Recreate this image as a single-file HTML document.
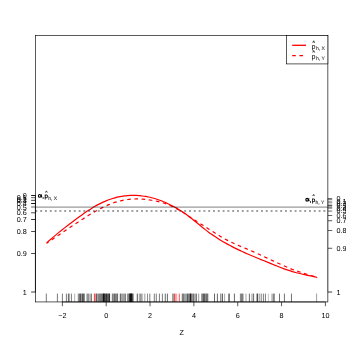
<!DOCTYPE html>
<html><head><meta charset="utf-8"><style>
html,body{margin:0;padding:0;background:#fff;}
svg{display:block;will-change:transform;}
text{font-family:"Liberation Sans",sans-serif;font-size:7.2px;fill:#000;text-rendering:geometricPrecision;}
.s{font-size:5px;fill:#333;stroke:#333;stroke-width:0.12px;}
.b{font-size:6.2px;stroke:#000;stroke-width:0.25px;}
</style></head><body>
<svg width="346" height="346" viewBox="0 0 346 346">
<path d="M46.60 243.07 C47.10 242.61 48.60 241.19 49.60 240.29 C50.60 239.38 51.60 238.51 52.60 237.64 C53.60 236.77 54.60 235.93 55.60 235.09 C56.60 234.25 57.60 233.43 58.60 232.62 C59.60 231.81 60.60 231.01 61.60 230.22 C62.60 229.43 63.60 228.64 64.60 227.86 C65.60 227.08 66.60 226.30 67.60 225.53 C68.60 224.76 69.60 224.00 70.60 223.24 C71.60 222.48 72.60 221.72 73.60 220.97 C74.60 220.22 75.60 219.48 76.60 218.74 C77.60 218.00 78.60 217.26 79.60 216.54 C80.60 215.81 81.60 215.09 82.60 214.39 C83.60 213.69 84.60 212.99 85.60 212.31 C86.60 211.63 87.60 210.95 88.60 210.30 C89.60 209.65 90.60 209.01 91.60 208.39 C92.60 207.77 93.60 207.16 94.60 206.58 C95.60 206.00 96.60 205.44 97.60 204.90 C98.60 204.36 99.60 203.84 100.60 203.34 C101.60 202.84 102.60 202.36 103.60 201.91 C104.60 201.46 105.60 201.03 106.60 200.62 C107.60 200.22 108.60 199.84 109.60 199.48 C110.60 199.12 111.60 198.79 112.60 198.48 C113.60 198.17 114.60 197.88 115.60 197.62 C116.60 197.36 117.60 197.12 118.60 196.90 C119.60 196.69 120.60 196.50 121.60 196.33 C122.60 196.16 123.60 196.01 124.60 195.89 C125.60 195.76 126.60 195.66 127.60 195.58 C128.60 195.50 129.60 195.45 130.60 195.41 C131.60 195.37 132.60 195.36 133.60 195.36 C134.60 195.37 135.60 195.39 136.60 195.44 C137.60 195.49 138.60 195.56 139.60 195.65 C140.60 195.74 141.60 195.85 142.60 195.98 C143.60 196.11 144.60 196.27 145.60 196.44 C146.60 196.61 147.60 196.80 148.60 197.01 C149.60 197.22 150.60 197.46 151.60 197.71 C152.60 197.96 153.60 198.24 154.60 198.53 C155.60 198.82 156.60 199.13 157.60 199.46 C158.60 199.79 159.60 200.15 160.60 200.52 C161.60 200.89 162.60 201.29 163.60 201.70 C164.60 202.11 165.60 202.55 166.60 203.00 C167.60 203.45 168.60 203.93 169.60 204.42 C170.60 204.91 171.60 205.43 172.60 205.96 C173.60 206.49 174.60 207.05 175.60 207.62 C176.60 208.19 177.60 208.79 178.60 209.41 C179.60 210.03 180.60 210.66 181.60 211.32 C182.60 211.98 183.60 212.66 184.60 213.36 C185.60 214.06 186.60 214.78 187.60 215.52 C188.60 216.26 189.60 217.03 190.60 217.80 C191.60 218.57 192.60 219.36 193.60 220.16 C194.60 220.96 195.60 221.78 196.60 222.59 C197.60 223.41 198.60 224.23 199.60 225.05 C200.60 225.87 201.60 226.69 202.60 227.49 C203.60 228.29 204.60 229.08 205.60 229.86 C206.60 230.64 207.60 231.41 208.60 232.15 C209.60 232.89 210.60 233.62 211.60 234.32 C212.60 235.02 213.60 235.71 214.60 236.37 C215.60 237.03 216.60 237.68 217.60 238.31 C218.60 238.94 219.60 239.55 220.60 240.15 C221.60 240.75 222.60 241.33 223.60 241.91 C224.60 242.49 225.60 243.06 226.60 243.62 C227.60 244.18 228.60 244.72 229.60 245.26 C230.60 245.80 231.60 246.33 232.60 246.85 C233.60 247.37 234.60 247.89 235.60 248.39 C236.60 248.89 237.60 249.38 238.60 249.87 C239.60 250.36 240.60 250.83 241.60 251.30 C242.60 251.77 243.60 252.22 244.60 252.67 C245.60 253.12 246.60 253.56 247.60 253.99 C248.60 254.42 249.60 254.85 250.60 255.27 C251.60 255.69 252.60 256.11 253.60 256.52 C254.60 256.93 255.60 257.34 256.60 257.75 C257.60 258.16 258.60 258.57 259.60 258.98 C260.60 259.39 261.60 259.79 262.60 260.20 C263.60 260.61 264.60 261.01 265.60 261.42 C266.60 261.83 267.60 262.23 268.60 262.64 C269.60 263.05 270.60 263.46 271.60 263.86 C272.60 264.26 273.60 264.67 274.60 265.07 C275.60 265.47 276.60 265.87 277.60 266.27 C278.60 266.67 279.60 267.06 280.60 267.45 C281.60 267.83 282.60 268.21 283.60 268.58 C284.60 268.95 285.60 269.32 286.60 269.67 C287.60 270.02 288.60 270.35 289.60 270.68 C290.60 271.01 291.60 271.33 292.60 271.63 C293.60 271.93 294.60 272.22 295.60 272.49 C296.60 272.76 297.60 273.03 298.60 273.28 C299.60 273.53 300.60 273.77 301.60 274.00 C302.60 274.23 303.60 274.45 304.60 274.67 C305.60 274.89 306.60 275.10 307.60 275.31 C308.60 275.52 309.60 275.73 310.60 275.94 C311.60 276.15 312.50 276.34 313.60 276.59 C314.70 276.84 316.60 277.31 317.20 277.46" fill="none" stroke="#f00" stroke-width="1.2"/>
<path d="M46.60 243.30 C47.10 242.96 48.60 241.96 49.60 241.28 C50.60 240.60 51.60 239.93 52.60 239.25 C53.60 238.57 54.60 237.89 55.60 237.21 C56.60 236.53 57.60 235.86 58.60 235.18 C59.60 234.50 60.60 233.82 61.60 233.14 C62.60 232.46 63.60 231.79 64.60 231.11 C65.60 230.43 66.60 229.76 67.60 229.08 C68.60 228.41 69.60 227.73 70.60 227.06 C71.60 226.39 72.60 225.72 73.60 225.05 C74.60 224.38 75.60 223.72 76.60 223.06 C77.60 222.40 78.60 221.74 79.60 221.08 C80.60 220.43 81.60 219.77 82.60 219.13 C83.60 218.49 84.60 217.85 85.60 217.22 C86.60 216.59 87.60 215.96 88.60 215.35 C89.60 214.74 90.60 214.13 91.60 213.54 C92.60 212.94 93.60 212.35 94.60 211.78 C95.60 211.21 96.60 210.66 97.60 210.11 C98.60 209.56 99.60 209.03 100.60 208.51 C101.60 207.99 102.60 207.49 103.60 207.01 C104.60 206.53 105.60 206.06 106.60 205.62 C107.60 205.18 108.60 204.75 109.60 204.34 C110.60 203.93 111.60 203.54 112.60 203.18 C113.60 202.82 114.60 202.48 115.60 202.17 C116.60 201.85 117.60 201.56 118.60 201.29 C119.60 201.02 120.60 200.78 121.60 200.56 C122.60 200.34 123.60 200.15 124.60 199.98 C125.60 199.81 126.60 199.66 127.60 199.53 C128.60 199.40 129.60 199.30 130.60 199.21 C131.60 199.12 132.60 199.06 133.60 199.02 C134.60 198.98 135.60 198.95 136.60 198.95 C137.60 198.94 138.60 198.96 139.60 198.99 C140.60 199.03 141.60 199.09 142.60 199.16 C143.60 199.23 144.60 199.32 145.60 199.43 C146.60 199.54 147.60 199.68 148.60 199.82 C149.60 199.96 150.60 200.11 151.60 200.27 C152.60 200.43 153.60 200.59 154.60 200.78 C155.60 200.97 156.60 201.18 157.60 201.41 C158.60 201.64 159.60 201.89 160.60 202.16 C161.60 202.43 162.60 202.71 163.60 203.03 C164.60 203.35 165.60 203.69 166.60 204.06 C167.60 204.43 168.60 204.84 169.60 205.27 C170.60 205.70 171.60 206.15 172.60 206.62 C173.60 207.09 174.60 207.59 175.60 208.12 C176.60 208.65 177.60 209.20 178.60 209.77 C179.60 210.34 180.60 210.95 181.60 211.56 C182.60 212.17 183.60 212.81 184.60 213.45 C185.60 214.09 186.60 214.75 187.60 215.41 C188.60 216.07 189.60 216.73 190.60 217.39 C191.60 218.05 192.60 218.70 193.60 219.35 C194.60 220.00 195.60 220.66 196.60 221.30 C197.60 221.94 198.60 222.57 199.60 223.20 C200.60 223.83 201.60 224.47 202.60 225.10 C203.60 225.73 204.60 226.36 205.60 226.99 C206.60 227.62 207.60 228.26 208.60 228.90 C209.60 229.54 210.60 230.17 211.60 230.81 C212.60 231.45 213.60 232.11 214.60 232.75 C215.60 233.39 216.60 234.02 217.60 234.64 C218.60 235.26 219.60 235.87 220.60 236.47 C221.60 237.07 222.60 237.66 223.60 238.23 C224.60 238.80 225.60 239.34 226.60 239.87 C227.60 240.40 228.60 240.91 229.60 241.40 C230.60 241.89 231.60 242.36 232.60 242.82 C233.60 243.28 234.60 243.74 235.60 244.18 C236.60 244.62 237.60 245.05 238.60 245.48 C239.60 245.91 240.60 246.34 241.60 246.76 C242.60 247.18 243.60 247.60 244.60 248.02 C245.60 248.44 246.60 248.85 247.60 249.27 C248.60 249.69 249.60 250.13 250.60 250.56 C251.60 250.99 252.60 251.43 253.60 251.87 C254.60 252.31 255.60 252.76 256.60 253.21 C257.60 253.66 258.60 254.11 259.60 254.57 C260.60 255.03 261.60 255.50 262.60 255.97 C263.60 256.44 264.60 256.91 265.60 257.38 C266.60 257.85 267.60 258.32 268.60 258.79 C269.60 259.26 270.60 259.73 271.60 260.19 C272.60 260.65 273.60 261.12 274.60 261.58 C275.60 262.04 276.60 262.51 277.60 262.97 C278.60 263.43 279.60 263.89 280.60 264.34 C281.60 264.79 282.60 265.25 283.60 265.69 C284.60 266.13 285.60 266.57 286.60 267.00 C287.60 267.43 288.60 267.86 289.60 268.27 C290.60 268.68 291.60 269.09 292.60 269.47 C293.60 269.85 294.60 270.21 295.60 270.57 C296.60 270.93 297.60 271.28 298.60 271.62 C299.60 271.96 300.60 272.30 301.60 272.63 C302.60 272.96 303.60 273.29 304.60 273.60 C305.60 273.91 306.60 274.21 307.60 274.51 C308.60 274.81 309.60 275.09 310.60 275.38 C311.60 275.67 312.50 275.95 313.60 276.26 C314.70 276.57 316.60 277.08 317.20 277.25" fill="none" stroke="#f00" stroke-width="1.2" stroke-dasharray="3.6 3.6" stroke-dashoffset="1.1"/>
<line x1="35.42" x2="327.86" y1="207.1" y2="207.1" stroke="#000" stroke-opacity="0.4" stroke-width="1.3"/>
<line x1="35.42" x2="327.86" y1="211.1" y2="211.1" stroke="#000" stroke-opacity="0.5" stroke-width="1.5" stroke-dasharray="1.9 2.9" stroke-dashoffset="0"/>
<g stroke-width="0.75"><line x1="46.30" x2="46.30" y1="293.6" y2="301.94" stroke="#000" stroke-opacity="0.70"/><line x1="57.40" x2="57.40" y1="293.6" y2="301.94" stroke="#000" stroke-opacity="0.70"/><line x1="62.40" x2="62.40" y1="293.6" y2="301.94" stroke="#000" stroke-opacity="0.70"/><line x1="66.40" x2="66.40" y1="293.6" y2="301.94" stroke="#000" stroke-opacity="0.70"/><line x1="68.40" x2="68.40" y1="293.6" y2="301.94" stroke="#000" stroke-opacity="0.70"/><line x1="69.10" x2="69.10" y1="293.6" y2="301.94" stroke="#000" stroke-opacity="0.70"/><line x1="71.40" x2="71.40" y1="293.6" y2="301.94" stroke="#000" stroke-opacity="0.70"/><line x1="74.70" x2="74.70" y1="293.6" y2="301.94" stroke="#000" stroke-opacity="0.40"/><line x1="78.20" x2="78.20" y1="293.6" y2="301.94" stroke="#000" stroke-opacity="0.45"/><line x1="78.80" x2="78.80" y1="293.6" y2="301.94" stroke="#000" stroke-opacity="0.45"/><line x1="79.40" x2="79.40" y1="293.6" y2="301.94" stroke="#000" stroke-opacity="0.45"/><line x1="80.00" x2="80.00" y1="293.6" y2="301.94" stroke="#000" stroke-opacity="0.45"/><line x1="80.20" x2="80.20" y1="293.6" y2="301.94" stroke="#000" stroke-opacity="0.70"/><line x1="80.80" x2="80.80" y1="293.6" y2="301.94" stroke="#000" stroke-opacity="0.70"/><line x1="81.90" x2="81.90" y1="293.6" y2="301.94" stroke="#000" stroke-opacity="0.65"/><line x1="82.50" x2="82.50" y1="293.6" y2="301.94" stroke="#000" stroke-opacity="0.65"/><line x1="83.10" x2="83.10" y1="293.6" y2="301.94" stroke="#000" stroke-opacity="0.65"/><line x1="83.70" x2="83.70" y1="293.6" y2="301.94" stroke="#000" stroke-opacity="0.65"/><line x1="84.30" x2="84.30" y1="293.6" y2="301.94" stroke="#000" stroke-opacity="0.65"/><line x1="86.80" x2="86.80" y1="293.6" y2="301.94" stroke="#000" stroke-opacity="0.40"/><line x1="87.40" x2="87.40" y1="293.6" y2="301.94" stroke="#000" stroke-opacity="0.40"/><line x1="88.00" x2="88.00" y1="293.6" y2="301.94" stroke="#000" stroke-opacity="0.40"/><line x1="88.60" x2="88.60" y1="293.6" y2="301.94" stroke="#000" stroke-opacity="0.40"/><line x1="89.20" x2="89.20" y1="293.6" y2="301.94" stroke="#000" stroke-opacity="0.40"/><line x1="90.40" x2="90.40" y1="293.6" y2="301.94" stroke="#000" stroke-opacity="0.30"/><line x1="91.30" x2="91.30" y1="293.6" y2="301.94" stroke="#000" stroke-opacity="0.85"/><line x1="94.40" x2="94.40" y1="293.6" y2="301.94" stroke="#f00" stroke-opacity="0.90"/><line x1="95.00" x2="95.00" y1="293.6" y2="301.94" stroke="#f00" stroke-opacity="0.80"/><line x1="95.90" x2="95.90" y1="293.6" y2="301.94" stroke="#000" stroke-opacity="0.35"/><line x1="96.50" x2="96.50" y1="293.6" y2="301.94" stroke="#000" stroke-opacity="0.35"/><line x1="97.10" x2="97.10" y1="293.6" y2="301.94" stroke="#000" stroke-opacity="0.35"/><line x1="97.70" x2="97.70" y1="293.6" y2="301.94" stroke="#000" stroke-opacity="0.35"/><line x1="98.30" x2="98.30" y1="293.6" y2="301.94" stroke="#000" stroke-opacity="0.35"/><line x1="98.90" x2="98.90" y1="293.6" y2="301.94" stroke="#000" stroke-opacity="0.35"/><line x1="99.50" x2="99.50" y1="293.6" y2="301.94" stroke="#000" stroke-opacity="0.35"/><line x1="100.10" x2="100.10" y1="293.6" y2="301.94" stroke="#000" stroke-opacity="0.35"/><line x1="100.70" x2="100.70" y1="293.6" y2="301.94" stroke="#000" stroke-opacity="0.35"/><line x1="101.30" x2="101.30" y1="293.6" y2="301.94" stroke="#000" stroke-opacity="0.35"/><line x1="101.90" x2="101.90" y1="293.6" y2="301.94" stroke="#000" stroke-opacity="0.35"/><line x1="102.50" x2="102.50" y1="293.6" y2="301.94" stroke="#000" stroke-opacity="0.35"/><line x1="96.50" x2="96.50" y1="293.6" y2="301.94" stroke="#000" stroke-opacity="0.50"/><line x1="99.00" x2="99.00" y1="293.6" y2="301.94" stroke="#000" stroke-opacity="0.50"/><line x1="100.50" x2="100.50" y1="293.6" y2="301.94" stroke="#000" stroke-opacity="0.25"/><line x1="101.10" x2="101.10" y1="293.6" y2="301.94" stroke="#000" stroke-opacity="0.25"/><line x1="101.70" x2="101.70" y1="293.6" y2="301.94" stroke="#000" stroke-opacity="0.25"/><line x1="102.30" x2="102.30" y1="293.6" y2="301.94" stroke="#000" stroke-opacity="0.25"/><line x1="103.10" x2="103.10" y1="293.6" y2="301.94" stroke="#000" stroke-opacity="0.95"/><line x1="103.50" x2="103.50" y1="293.6" y2="301.94" stroke="#000" stroke-opacity="0.95"/><line x1="103.90" x2="103.90" y1="293.6" y2="301.94" stroke="#000" stroke-opacity="0.95"/><line x1="104.30" x2="104.30" y1="293.6" y2="301.94" stroke="#000" stroke-opacity="0.95"/><line x1="104.80" x2="104.80" y1="293.6" y2="301.94" stroke="#000" stroke-opacity="0.70"/><line x1="105.40" x2="105.40" y1="293.6" y2="301.94" stroke="#000" stroke-opacity="0.70"/><line x1="106.00" x2="106.00" y1="293.6" y2="301.94" stroke="#000" stroke-opacity="0.70"/><line x1="106.60" x2="106.60" y1="293.6" y2="301.94" stroke="#000" stroke-opacity="0.70"/><line x1="107.20" x2="107.20" y1="293.6" y2="301.94" stroke="#000" stroke-opacity="0.70"/><line x1="107.80" x2="107.80" y1="293.6" y2="301.94" stroke="#000" stroke-opacity="0.70"/><line x1="108.40" x2="108.40" y1="293.6" y2="301.94" stroke="#000" stroke-opacity="0.70"/><line x1="109.00" x2="109.00" y1="293.6" y2="301.94" stroke="#000" stroke-opacity="0.70"/><line x1="109.60" x2="109.60" y1="293.6" y2="301.94" stroke="#000" stroke-opacity="0.70"/><line x1="106.40" x2="106.40" y1="293.6" y2="301.94" stroke="#000" stroke-opacity="0.60"/><line x1="109.50" x2="109.50" y1="293.6" y2="301.94" stroke="#000" stroke-opacity="0.70"/><line x1="112.10" x2="112.10" y1="293.6" y2="301.94" stroke="#000" stroke-opacity="0.30"/><line x1="112.70" x2="112.70" y1="293.6" y2="301.94" stroke="#000" stroke-opacity="0.30"/><line x1="113.30" x2="113.30" y1="293.6" y2="301.94" stroke="#000" stroke-opacity="0.30"/><line x1="113.90" x2="113.90" y1="293.6" y2="301.94" stroke="#000" stroke-opacity="0.30"/><line x1="114.50" x2="114.50" y1="293.6" y2="301.94" stroke="#000" stroke-opacity="0.30"/><line x1="115.10" x2="115.10" y1="293.6" y2="301.94" stroke="#000" stroke-opacity="0.30"/><line x1="115.70" x2="115.70" y1="293.6" y2="301.94" stroke="#000" stroke-opacity="0.30"/><line x1="116.30" x2="116.30" y1="293.6" y2="301.94" stroke="#000" stroke-opacity="0.30"/><line x1="116.90" x2="116.90" y1="293.6" y2="301.94" stroke="#000" stroke-opacity="0.30"/><line x1="117.50" x2="117.50" y1="293.6" y2="301.94" stroke="#000" stroke-opacity="0.30"/><line x1="112.90" x2="112.90" y1="293.6" y2="301.94" stroke="#000" stroke-opacity="0.60"/><line x1="114.70" x2="114.70" y1="293.6" y2="301.94" stroke="#000" stroke-opacity="0.60"/><line x1="116.00" x2="116.00" y1="293.6" y2="301.94" stroke="#000" stroke-opacity="0.60"/><line x1="117.60" x2="117.60" y1="293.6" y2="301.94" stroke="#000" stroke-opacity="0.60"/><line x1="120.00" x2="120.00" y1="293.6" y2="301.94" stroke="#000" stroke-opacity="0.33"/><line x1="120.60" x2="120.60" y1="293.6" y2="301.94" stroke="#000" stroke-opacity="0.33"/><line x1="121.20" x2="121.20" y1="293.6" y2="301.94" stroke="#000" stroke-opacity="0.33"/><line x1="121.80" x2="121.80" y1="293.6" y2="301.94" stroke="#000" stroke-opacity="0.33"/><line x1="122.40" x2="122.40" y1="293.6" y2="301.94" stroke="#000" stroke-opacity="0.33"/><line x1="123.00" x2="123.00" y1="293.6" y2="301.94" stroke="#000" stroke-opacity="0.33"/><line x1="123.60" x2="123.60" y1="293.6" y2="301.94" stroke="#000" stroke-opacity="0.33"/><line x1="124.20" x2="124.20" y1="293.6" y2="301.94" stroke="#000" stroke-opacity="0.33"/><line x1="124.80" x2="124.80" y1="293.6" y2="301.94" stroke="#000" stroke-opacity="0.33"/><line x1="125.40" x2="125.40" y1="293.6" y2="301.94" stroke="#000" stroke-opacity="0.33"/><line x1="120.50" x2="120.50" y1="293.6" y2="301.94" stroke="#000" stroke-opacity="0.50"/><line x1="125.30" x2="125.30" y1="293.6" y2="301.94" stroke="#000" stroke-opacity="0.50"/><line x1="127.40" x2="127.40" y1="293.6" y2="301.94" stroke="#000" stroke-opacity="0.45"/><line x1="128.00" x2="128.00" y1="293.6" y2="301.94" stroke="#000" stroke-opacity="0.45"/><line x1="128.60" x2="128.60" y1="293.6" y2="301.94" stroke="#000" stroke-opacity="0.45"/><line x1="129.20" x2="129.20" y1="293.6" y2="301.94" stroke="#000" stroke-opacity="0.45"/><line x1="129.80" x2="129.80" y1="293.6" y2="301.94" stroke="#000" stroke-opacity="0.45"/><line x1="130.40" x2="130.40" y1="293.6" y2="301.94" stroke="#000" stroke-opacity="0.45"/><line x1="131.00" x2="131.00" y1="293.6" y2="301.94" stroke="#000" stroke-opacity="0.45"/><line x1="131.60" x2="131.60" y1="293.6" y2="301.94" stroke="#000" stroke-opacity="0.45"/><line x1="132.20" x2="132.20" y1="293.6" y2="301.94" stroke="#000" stroke-opacity="0.45"/><line x1="132.80" x2="132.80" y1="293.6" y2="301.94" stroke="#000" stroke-opacity="0.45"/><line x1="133.40" x2="133.40" y1="293.6" y2="301.94" stroke="#000" stroke-opacity="0.45"/><line x1="129.70" x2="129.70" y1="293.6" y2="301.94" stroke="#000" stroke-opacity="0.80"/><line x1="130.10" x2="130.10" y1="293.6" y2="301.94" stroke="#000" stroke-opacity="0.80"/><line x1="130.50" x2="130.50" y1="293.6" y2="301.94" stroke="#000" stroke-opacity="0.80"/><line x1="130.90" x2="130.90" y1="293.6" y2="301.94" stroke="#000" stroke-opacity="0.80"/><line x1="131.30" x2="131.30" y1="293.6" y2="301.94" stroke="#000" stroke-opacity="0.80"/><line x1="131.70" x2="131.70" y1="293.6" y2="301.94" stroke="#000" stroke-opacity="0.80"/><line x1="132.10" x2="132.10" y1="293.6" y2="301.94" stroke="#000" stroke-opacity="0.80"/><line x1="137.30" x2="137.30" y1="293.6" y2="301.94" stroke="#000" stroke-opacity="0.90"/><line x1="139.30" x2="139.30" y1="293.6" y2="301.94" stroke="#000" stroke-opacity="0.35"/><line x1="139.90" x2="139.90" y1="293.6" y2="301.94" stroke="#000" stroke-opacity="0.35"/><line x1="140.50" x2="140.50" y1="293.6" y2="301.94" stroke="#000" stroke-opacity="0.35"/><line x1="141.10" x2="141.10" y1="293.6" y2="301.94" stroke="#000" stroke-opacity="0.35"/><line x1="141.70" x2="141.70" y1="293.6" y2="301.94" stroke="#000" stroke-opacity="0.35"/><line x1="142.30" x2="142.30" y1="293.6" y2="301.94" stroke="#000" stroke-opacity="0.35"/><line x1="144.40" x2="144.40" y1="293.6" y2="301.94" stroke="#000" stroke-opacity="0.30"/><line x1="145.10" x2="145.10" y1="293.6" y2="301.94" stroke="#000" stroke-opacity="0.30"/><line x1="147.50" x2="147.50" y1="293.6" y2="301.94" stroke="#000" stroke-opacity="0.60"/><line x1="149.80" x2="149.80" y1="293.6" y2="301.94" stroke="#000" stroke-opacity="0.70"/><line x1="154.30" x2="154.30" y1="293.6" y2="301.94" stroke="#000" stroke-opacity="0.70"/><line x1="156.30" x2="156.30" y1="293.6" y2="301.94" stroke="#000" stroke-opacity="0.70"/><line x1="159.40" x2="159.40" y1="293.6" y2="301.94" stroke="#000" stroke-opacity="0.70"/><line x1="162.40" x2="162.40" y1="293.6" y2="301.94" stroke="#000" stroke-opacity="0.70"/><line x1="165.25" x2="165.25" y1="293.6" y2="301.94" stroke="#000" stroke-opacity="0.80"/><line x1="167.40" x2="167.40" y1="293.6" y2="301.94" stroke="#000" stroke-opacity="0.80"/><line x1="172.50" x2="172.50" y1="293.6" y2="301.94" stroke="#000" stroke-opacity="0.40"/><line x1="173.10" x2="173.10" y1="293.6" y2="301.94" stroke="#000" stroke-opacity="0.40"/><line x1="173.70" x2="173.70" y1="293.6" y2="301.94" stroke="#000" stroke-opacity="0.40"/><line x1="174.60" x2="174.60" y1="293.6" y2="301.94" stroke="#c00" stroke-opacity="0.90"/><line x1="175.30" x2="175.30" y1="293.6" y2="301.94" stroke="#f00" stroke-opacity="0.40"/><line x1="175.90" x2="175.90" y1="293.6" y2="301.94" stroke="#f00" stroke-opacity="0.35"/><line x1="176.50" x2="176.50" y1="293.6" y2="301.94" stroke="#f00" stroke-opacity="0.30"/><line x1="177.00" x2="177.00" y1="293.6" y2="301.94" stroke="#f00" stroke-opacity="0.20"/><line x1="179.30" x2="179.30" y1="293.6" y2="301.94" stroke="#f00" stroke-opacity="0.90"/><line x1="182.20" x2="182.20" y1="293.6" y2="301.94" stroke="#000" stroke-opacity="0.55"/><line x1="182.80" x2="182.80" y1="293.6" y2="301.94" stroke="#000" stroke-opacity="0.55"/><line x1="183.40" x2="183.40" y1="293.6" y2="301.94" stroke="#000" stroke-opacity="0.55"/><line x1="184.00" x2="184.00" y1="293.6" y2="301.94" stroke="#000" stroke-opacity="0.35"/><line x1="184.60" x2="184.60" y1="293.6" y2="301.94" stroke="#000" stroke-opacity="0.35"/><line x1="185.20" x2="185.20" y1="293.6" y2="301.94" stroke="#000" stroke-opacity="0.35"/><line x1="185.80" x2="185.80" y1="293.6" y2="301.94" stroke="#000" stroke-opacity="0.35"/><line x1="186.40" x2="186.40" y1="293.6" y2="301.94" stroke="#000" stroke-opacity="0.35"/><line x1="187.00" x2="187.00" y1="293.6" y2="301.94" stroke="#000" stroke-opacity="0.35"/><line x1="187.50" x2="187.50" y1="293.6" y2="301.94" stroke="#000" stroke-opacity="0.70"/><line x1="188.00" x2="188.00" y1="293.6" y2="301.94" stroke="#000" stroke-opacity="0.45"/><line x1="188.60" x2="188.60" y1="293.6" y2="301.94" stroke="#000" stroke-opacity="0.45"/><line x1="189.20" x2="189.20" y1="293.6" y2="301.94" stroke="#000" stroke-opacity="0.45"/><line x1="190.00" x2="190.00" y1="293.6" y2="301.94" stroke="#000" stroke-opacity="0.95"/><line x1="190.40" x2="190.40" y1="293.6" y2="301.94" stroke="#000" stroke-opacity="0.95"/><line x1="190.80" x2="190.80" y1="293.6" y2="301.94" stroke="#000" stroke-opacity="0.95"/><line x1="191.30" x2="191.30" y1="293.6" y2="301.94" stroke="#000" stroke-opacity="0.45"/><line x1="191.90" x2="191.90" y1="293.6" y2="301.94" stroke="#000" stroke-opacity="0.45"/><line x1="192.50" x2="192.50" y1="293.6" y2="301.94" stroke="#000" stroke-opacity="0.45"/><line x1="193.60" x2="193.60" y1="293.6" y2="301.94" stroke="#000" stroke-opacity="0.80"/><line x1="194.30" x2="194.30" y1="293.6" y2="301.94" stroke="#000" stroke-opacity="0.30"/><line x1="194.90" x2="194.90" y1="293.6" y2="301.94" stroke="#000" stroke-opacity="0.30"/><line x1="195.50" x2="195.50" y1="293.6" y2="301.94" stroke="#000" stroke-opacity="0.30"/><line x1="196.40" x2="196.40" y1="293.6" y2="301.94" stroke="#000" stroke-opacity="0.80"/><line x1="198.70" x2="198.70" y1="293.6" y2="301.94" stroke="#000" stroke-opacity="0.55"/><line x1="201.50" x2="201.50" y1="293.6" y2="301.94" stroke="#000" stroke-opacity="0.40"/><line x1="202.10" x2="202.10" y1="293.6" y2="301.94" stroke="#000" stroke-opacity="0.40"/><line x1="202.70" x2="202.70" y1="293.6" y2="301.94" stroke="#000" stroke-opacity="0.40"/><line x1="203.30" x2="203.30" y1="293.6" y2="301.94" stroke="#000" stroke-opacity="0.40"/><line x1="203.90" x2="203.90" y1="293.6" y2="301.94" stroke="#000" stroke-opacity="0.40"/><line x1="204.50" x2="204.50" y1="293.6" y2="301.94" stroke="#000" stroke-opacity="0.40"/><line x1="205.10" x2="205.10" y1="293.6" y2="301.94" stroke="#000" stroke-opacity="0.40"/><line x1="205.70" x2="205.70" y1="293.6" y2="301.94" stroke="#000" stroke-opacity="0.40"/><line x1="206.30" x2="206.30" y1="293.6" y2="301.94" stroke="#000" stroke-opacity="0.40"/><line x1="206.90" x2="206.90" y1="293.6" y2="301.94" stroke="#000" stroke-opacity="0.40"/><line x1="207.50" x2="207.50" y1="293.6" y2="301.94" stroke="#000" stroke-opacity="0.40"/><line x1="203.00" x2="203.00" y1="293.6" y2="301.94" stroke="#000" stroke-opacity="0.35"/><line x1="203.60" x2="203.60" y1="293.6" y2="301.94" stroke="#000" stroke-opacity="0.35"/><line x1="204.20" x2="204.20" y1="293.6" y2="301.94" stroke="#000" stroke-opacity="0.35"/><line x1="204.80" x2="204.80" y1="293.6" y2="301.94" stroke="#000" stroke-opacity="0.35"/><line x1="206.70" x2="206.70" y1="293.6" y2="301.94" stroke="#000" stroke-opacity="0.40"/><line x1="207.30" x2="207.30" y1="293.6" y2="301.94" stroke="#000" stroke-opacity="0.40"/><line x1="208.60" x2="208.60" y1="293.6" y2="301.94" stroke="#000" stroke-opacity="0.25"/><line x1="214.50" x2="214.50" y1="293.6" y2="301.94" stroke="#000" stroke-opacity="0.80"/><line x1="217.40" x2="217.40" y1="293.6" y2="301.94" stroke="#000" stroke-opacity="0.80"/><line x1="220.60" x2="220.60" y1="293.6" y2="301.94" stroke="#000" stroke-opacity="0.60"/><line x1="221.40" x2="221.40" y1="293.6" y2="301.94" stroke="#000" stroke-opacity="0.30"/><line x1="222.50" x2="222.50" y1="293.6" y2="301.94" stroke="#000" stroke-opacity="0.80"/><line x1="224.60" x2="224.60" y1="293.6" y2="301.94" stroke="#000" stroke-opacity="0.45"/><line x1="228.70" x2="228.70" y1="293.6" y2="301.94" stroke="#000" stroke-opacity="0.70"/><line x1="229.40" x2="229.40" y1="293.6" y2="301.94" stroke="#000" stroke-opacity="0.70"/><line x1="234.40" x2="234.40" y1="293.6" y2="301.94" stroke="#000" stroke-opacity="0.80"/><line x1="240.40" x2="240.40" y1="293.6" y2="301.94" stroke="#000" stroke-opacity="0.65"/><line x1="241.40" x2="241.40" y1="293.6" y2="301.94" stroke="#000" stroke-opacity="0.65"/><line x1="242.20" x2="242.20" y1="293.6" y2="301.94" stroke="#000" stroke-opacity="0.65"/><line x1="243.00" x2="243.00" y1="293.6" y2="301.94" stroke="#000" stroke-opacity="0.65"/><line x1="245.60" x2="245.60" y1="293.6" y2="301.94" stroke="#000" stroke-opacity="0.25"/><line x1="246.40" x2="246.40" y1="293.6" y2="301.94" stroke="#000" stroke-opacity="0.25"/><line x1="249.40" x2="249.40" y1="293.6" y2="301.94" stroke="#000" stroke-opacity="0.80"/><line x1="252.00" x2="252.00" y1="293.6" y2="301.94" stroke="#000" stroke-opacity="0.60"/><line x1="253.60" x2="253.60" y1="293.6" y2="301.94" stroke="#000" stroke-opacity="0.80"/><line x1="257.00" x2="257.00" y1="293.6" y2="301.94" stroke="#000" stroke-opacity="0.80"/><line x1="257.50" x2="257.50" y1="293.6" y2="301.94" stroke="#000" stroke-opacity="0.80"/><line x1="259.20" x2="259.20" y1="293.6" y2="301.94" stroke="#000" stroke-opacity="0.60"/><line x1="261.20" x2="261.20" y1="293.6" y2="301.94" stroke="#000" stroke-opacity="0.70"/><line x1="263.40" x2="263.40" y1="293.6" y2="301.94" stroke="#000" stroke-opacity="0.70"/><line x1="265.40" x2="265.40" y1="293.6" y2="301.94" stroke="#000" stroke-opacity="0.70"/><line x1="268.40" x2="268.40" y1="293.6" y2="301.94" stroke="#000" stroke-opacity="0.30"/><line x1="271.60" x2="271.60" y1="293.6" y2="301.94" stroke="#000" stroke-opacity="0.30"/><line x1="272.50" x2="272.50" y1="293.6" y2="301.94" stroke="#000" stroke-opacity="0.30"/><line x1="273.40" x2="273.40" y1="293.6" y2="301.94" stroke="#000" stroke-opacity="0.65"/><line x1="274.30" x2="274.30" y1="293.6" y2="301.94" stroke="#000" stroke-opacity="0.65"/><line x1="279.50" x2="279.50" y1="293.6" y2="301.94" stroke="#000" stroke-opacity="0.75"/><line x1="284.40" x2="284.40" y1="293.6" y2="301.94" stroke="#000" stroke-opacity="0.75"/><line x1="291.45" x2="291.45" y1="293.6" y2="301.94" stroke="#000" stroke-opacity="0.75"/><line x1="316.60" x2="316.60" y1="293.6" y2="301.94" stroke="#000" stroke-opacity="0.50"/></g>
<rect x="35.42" y="35.42" width="292.44" height="266.52" fill="none" stroke="#000" stroke-width="0.65"/>
<rect x="31.1" y="195" width="4.3" height="1" fill="#000" fill-opacity="0.90"/><rect x="31.1" y="197" width="4.3" height="1" fill="#000" fill-opacity="0.50"/><rect x="31.1" y="198" width="4.3" height="1" fill="#000" fill-opacity="0.10"/><rect x="31.1" y="199" width="4.3" height="1" fill="#000" fill-opacity="0.12"/><rect x="31.1" y="200" width="4.3" height="1" fill="#000" fill-opacity="0.60"/><rect x="31.1" y="203" width="4.3" height="1" fill="#000" fill-opacity="0.90"/><rect x="31.1" y="206" width="4.3" height="1" fill="#000" fill-opacity="0.30"/><rect x="31.1" y="207" width="4.3" height="1" fill="#000" fill-opacity="0.30"/><rect x="31.1" y="212" width="4.3" height="1" fill="#000" fill-opacity="0.50"/><rect x="31.1" y="213" width="4.3" height="1" fill="#000" fill-opacity="0.20"/><rect x="31.1" y="219" width="4.3" height="1" fill="#000" fill-opacity="0.80"/><rect x="31.1" y="231" width="4.3" height="1" fill="#000" fill-opacity="0.70"/><rect x="31.1" y="253" width="4.3" height="1" fill="#000" fill-opacity="0.70"/><rect x="31.1" y="291" width="4.3" height="1" fill="#000" fill-opacity="0.35"/><rect x="31.1" y="292" width="4.3" height="1" fill="#000" fill-opacity="0.40"/><rect x="327.9" y="198" width="4.3" height="1" fill="#000" fill-opacity="0.55"/><rect x="327.9" y="199" width="4.3" height="1" fill="#000" fill-opacity="0.45"/><rect x="327.9" y="200" width="4.3" height="1" fill="#000" fill-opacity="0.10"/><rect x="327.9" y="201" width="4.3" height="1" fill="#000" fill-opacity="0.30"/><rect x="327.9" y="202" width="4.3" height="1" fill="#000" fill-opacity="0.35"/><rect x="327.9" y="203" width="4.3" height="1" fill="#000" fill-opacity="0.15"/><rect x="327.9" y="204" width="4.3" height="1" fill="#000" fill-opacity="0.20"/><rect x="327.9" y="205" width="4.3" height="1" fill="#000" fill-opacity="0.65"/><rect x="327.9" y="206" width="4.3" height="1" fill="#000" fill-opacity="0.30"/><rect x="327.9" y="207" width="4.3" height="1" fill="#000" fill-opacity="0.45"/><rect x="327.9" y="208" width="4.3" height="1" fill="#000" fill-opacity="0.35"/><rect x="327.9" y="210" width="4.3" height="1" fill="#000" fill-opacity="0.25"/><rect x="327.9" y="211" width="4.3" height="1" fill="#000" fill-opacity="0.35"/><rect x="327.9" y="215" width="4.3" height="1" fill="#000" fill-opacity="0.60"/><rect x="327.9" y="220" width="4.3" height="1" fill="#000" fill-opacity="0.50"/><rect x="327.9" y="221" width="4.3" height="1" fill="#000" fill-opacity="0.15"/><rect x="327.9" y="230" width="4.3" height="1" fill="#000" fill-opacity="0.60"/><rect x="327.9" y="248" width="4.3" height="1" fill="#000" fill-opacity="0.50"/><rect x="327.9" y="247" width="4.3" height="1" fill="#000" fill-opacity="0.15"/><rect x="327.9" y="291" width="4.3" height="1" fill="#000" fill-opacity="0.35"/><rect x="327.9" y="292" width="4.3" height="1" fill="#000" fill-opacity="0.40"/><g stroke="#000" stroke-width="0.65" fill="none"><line x1="62.36" x2="62.36" y1="301.94" y2="306.26"/><line x1="106.20" x2="106.20" y1="301.94" y2="306.26"/><line x1="150.04" x2="150.04" y1="301.94" y2="306.26"/><line x1="193.88" x2="193.88" y1="301.94" y2="306.26"/><line x1="237.72" x2="237.72" y1="301.94" y2="306.26"/><line x1="281.56" x2="281.56" y1="301.94" y2="306.26"/><line x1="325.40" x2="325.40" y1="301.94" y2="306.26"/><line x1="35.42" x2="35.42" y1="195" y2="292.3" stroke-width="0.75"/><line x1="327.86" x2="327.86" y1="198" y2="292.3" stroke-opacity="0.4"/><line x1="62.36" x2="325.40" y1="301.94" y2="301.94"/></g>
<g><text x="26.8" y="198.10" text-anchor="end">0</text><text x="26.8" y="200.10" text-anchor="end">0.1</text><text x="26.8" y="201.70" text-anchor="end">0.2</text><text x="26.8" y="203.40" text-anchor="end">0.3</text><text x="26.8" y="205.90" text-anchor="end">0.4</text><text x="26.8" y="209.60" text-anchor="end">0.5</text><text x="26.8" y="215.30" text-anchor="end">0.6</text><text x="26.8" y="222.10" text-anchor="end">0.7</text><text x="26.8" y="233.60" text-anchor="end">0.8</text><text x="26.8" y="255.90" text-anchor="end">0.9</text><text x="26.8" y="294.60" text-anchor="end">1</text><text x="336.5" y="201.45">0</text><text x="336.5" y="203.70">0.1</text><text x="336.5" y="205.60">0.2</text><text x="336.5" y="207.80">0.3</text><text x="336.5" y="210.80">0.4</text><text x="336.5" y="213.40">0.5</text><text x="336.5" y="218.00">0.6</text><text x="336.5" y="223.20">0.7</text><text x="336.5" y="232.80">0.8</text><text x="336.5" y="250.60">0.9</text><text x="336.5" y="294.60">1</text><text x="62.36" y="317.6" text-anchor="middle">−2</text><text x="106.20" y="317.6" text-anchor="middle">0</text><text x="150.04" y="317.6" text-anchor="middle">2</text><text x="193.88" y="317.6" text-anchor="middle">4</text><text x="237.72" y="317.6" text-anchor="middle">6</text><text x="281.56" y="317.6" text-anchor="middle">8</text><text x="325.40" y="317.6" text-anchor="middle">10</text>
<text x="181.7" y="335" text-anchor="middle">Z</text></g>
<rect x="286.5" y="35.42" width="41.36" height="28.5" fill="#fff" stroke="#000" stroke-width="0.65"/>
<line x1="292.2" x2="306" y1="45.3" y2="45.3" stroke="#f00" stroke-width="1.3"/>
<line x1="292.2" x2="306" y1="55.6" y2="55.6" stroke="#f00" stroke-width="1.4" stroke-dasharray="3.6 3.6"/>
<text x="311.5" y="49" fill="#3a3a3a">p</text><text class="s" x="315.9" y="50.0">h,</text><text class="s" x="321.6" y="50.0">X</text>
<path d="M312.8 42.8 L313.7 40.8 L314.6 42.8" fill="none" stroke="#111" stroke-width="0.8"/>
<text x="311.5" y="58.6" fill="#3a3a3a">p</text><text class="s" x="315.9" y="59.6">h,</text><text class="s" x="321.6" y="59.6">Y</text>
<path d="M312.8 52.5 L313.7 50.5 L314.6 52.5" fill="none" stroke="#111" stroke-width="0.8"/>
<path transform="translate(0.4 0.2)" d="M41.3 194.3 C40.8 196.3 40.0 197.0 39.3 197.0 C38.4 197.0 38.0 196.4 38.0 195.7 C38.0 194.9 38.5 194.3 39.3 194.3 C40.2 194.3 40.7 195.8 41.5 197.1" fill="none" stroke="#000" stroke-width="1.1"/><text class="b" x="42.30" y="197.60">,</text><text class="b" x="44.60" y="198.00">p</text>
<text class="s" x="48.30" y="199.70">h,</text><text class="s" x="53.70" y="199.70">X</text>
<path d="M45.50 192.60 L46.40 190.90 L47.30 192.60" fill="none" stroke="#000" stroke-width="0.7"/>
<path transform="translate(267.8 4.1)" d="M41.3 194.3 C40.8 196.3 40.0 197.0 39.3 197.0 C38.4 197.0 38.0 196.4 38.0 195.7 C38.0 194.9 38.5 194.3 39.3 194.3 C40.2 194.3 40.7 195.8 41.5 197.1" fill="none" stroke="#000" stroke-width="1.1"/><text class="b" x="309.70" y="201.50">,</text><text class="b" x="311.80" y="201.90">p</text>
<text class="s" x="315.50" y="203.50">h,</text><text class="s" x="320.90" y="203.50">Y</text>
<path d="M312.70 196.10 L313.60 194.40 L314.50 196.10" fill="none" stroke="#000" stroke-width="0.7"/>
</svg>
</body></html>
